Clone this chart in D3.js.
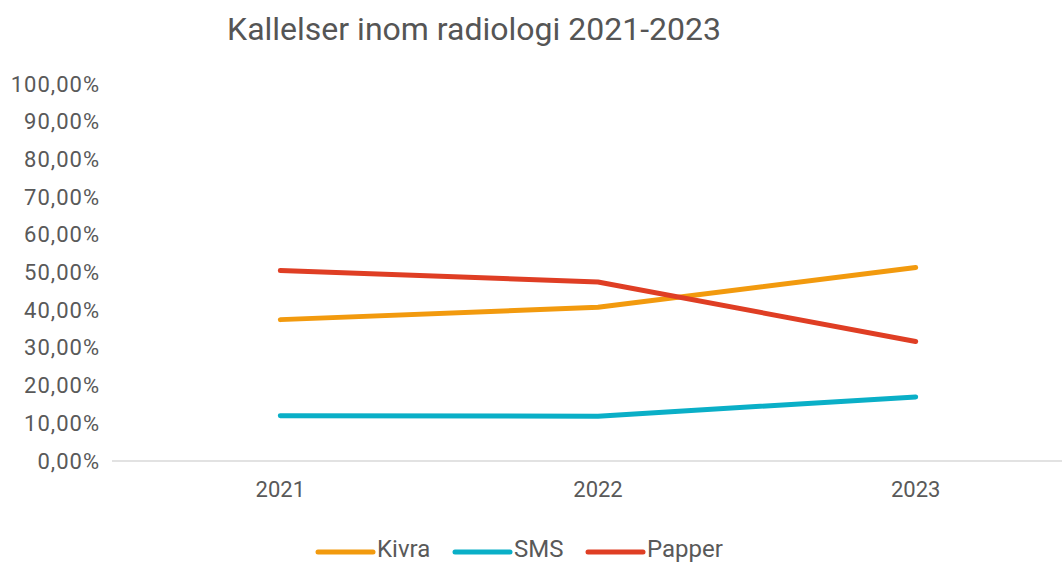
<!DOCTYPE html>
<html><head><meta charset="utf-8">
<script src="https://cdn.jsdelivr.net/npm/d3@7"></script>
<style>body{margin:0;background:#fff;} svg{display:block;font-family:Roboto, 'Noto Sans', sans-serif;}</style>
</head><body>
<script>
const years = ["2021","2022","2023"];
const kivra = [37.5, 40.8, 51.3];
const sms = [12.0, 11.9, 17.0];
const papper = [50.5, 47.5, 31.7];
const yTicks = [0,10,20,30,40,50,60,70,80,90,100];
const seriesNames = ["Kivra","SMS","Papper"];
const seriesColors = ["#F29A0E","#0AAFC7","#DF3E24"];

const W=1062,H=563;
const svg=d3.select("body").append("svg").attr("width",W).attr("height",H);
const x=d3.scaleBand().domain(years).range([121.5,1074.5]);
const y=d3.scaleLinear().domain([0,100]).range([461,84]);

svg.append("text").attr("x",474).attr("y",40).attr("text-anchor","middle")
  .attr("font-size",32).attr("fill","#555555").text("Kallelser inom radiologi 2021-2023");

// y labels
const fmt=v=>d3.format(".2f")(v).replace(".",",")+"%";
const ya=svg.append("g").attr("transform","translate(100,0)").call(d3.axisLeft(y).tickValues(yTicks).tickFormat(fmt).tickSize(0).tickPadding(0));
ya.select(".domain").remove();
ya.selectAll("text").attr("font-size",22).attr("letter-spacing","1px").attr("fill","#595959").attr("font-family","Roboto, sans-serif");

// x axis
svg.append("line").attr("x1",112).attr("x2",1062).attr("y1",y(0)).attr("y2",y(0)).attr("stroke","#d9d9d9").attr("stroke-width",1.5);
const xa=svg.append("g").attr("transform",`translate(0,${y(0)})`).call(d3.axisBottom(x).tickSize(0).tickPadding(20));
xa.select(".domain").remove();
xa.selectAll("text").attr("font-size",22).attr("fill","#595959").attr("font-family","Roboto, sans-serif");

const data=[kivra,sms,papper];
const line=d3.line().x((d,i)=>x(years[i])+x.bandwidth()/2).y(d=>y(d));
data.forEach((s,i)=>{
  svg.append("path").attr("d",line(s)).attr("fill","none").attr("stroke",seriesColors[i])
    .attr("stroke-width",5).attr("stroke-linecap","round").attr("stroke-linejoin","round");
});

// legend
const lx=[318,455,588];
seriesNames.forEach((n,i)=>{
  svg.append("line").attr("x1",lx[i]).attr("x2",lx[i]+55).attr("y1",552).attr("y2",552)
    .attr("stroke",seriesColors[i]).attr("stroke-width",5).attr("stroke-linecap","round");
  svg.append("text").attr("x",lx[i]+59).attr("y",557).attr("font-size",24).attr("fill","#595959").text(n);
});
</script>
</body></html>
